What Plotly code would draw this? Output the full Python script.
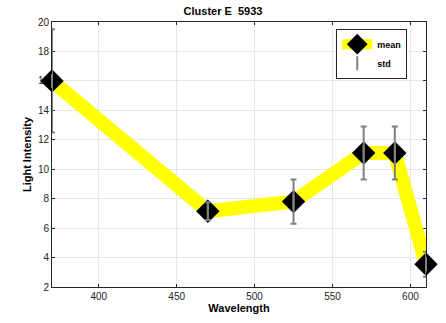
import plotly.graph_objects as go

# Cluster E spectral profile
wavelength = [370, 470, 525, 570, 590, 610]
mean_intensity = [16.0, 7.15, 7.8, 11.1, 11.1, 3.55]
std_intensity = [3.5, 0.6, 1.5, 1.8, 1.8, 0.85]

title_text = "Cluster E  5933"
x_ticks = [400, 450, 500, 550, 600]
y_ticks = [2, 4, 6, 8, 10, 12, 14, 16, 18, 20]

font_family = "Liberation Sans, Arial, sans-serif"

fig = go.Figure()

# mean curve
fig.add_trace(go.Scatter(
    x=wavelength, y=mean_intensity,
    mode="lines+markers",
    name="<b>mean</b>",
    cliponaxis=False,
    line=dict(color="#ffff00", width=14),
    marker=dict(symbol="diamond", size=18, color="black"),
))

# error bars (std), drawn over the markers
fig.add_trace(go.Scatter(
    x=wavelength, y=mean_intensity,
    mode="markers",
    name="<b>std</b>",
    cliponaxis=False,
    marker=dict(symbol="line-ns", size=10, color="#808080",
                line=dict(color="#808080", width=2)),
    error_y=dict(type="data", array=std_intensity, visible=True,
                 color="#808080", thickness=2, width=3),
))

axis_common = dict(
    showgrid=True, gridcolor="#e6e6e6", gridwidth=1,
    showline=True, linecolor="#262626", linewidth=1, mirror="ticks",
    ticks="inside", ticklen=3, tickcolor="#262626",
    tickfont=dict(family=font_family, size=10, color="#262626"),
    zeroline=False, layer="below traces",
)

fig.update_layout(
    width=446, height=323,
    margin=dict(l=52, r=20, t=22, b=36),
    paper_bgcolor="white", plot_bgcolor="white",
    title=dict(text="<b>" + title_text + "</b>", x=0.5, xanchor="center",
               y=1 - 11 / 323, yanchor="middle",
               font=dict(family=font_family, size=11, color="black")),
    xaxis=dict(range=[370, 610], tickvals=x_ticks,
               title=dict(text="<b>Wavelength</b>", standoff=2,
                          font=dict(family=font_family, size=11, color="black")),
               **axis_common),
    yaxis=dict(range=[2, 20], tickvals=y_ticks,
               title=dict(text="<b>Light Intensity</b>", standoff=4,
                          font=dict(family=font_family, size=11, color="black")),
               **axis_common),
    showlegend=True,
    legend=dict(x=0.76, y=0.975, xanchor="left", yanchor="top",
                bgcolor="white", bordercolor="#262626", borderwidth=1,
                traceorder="normal",
                font=dict(family=font_family, size=9, color="black"),
                itemwidth=30, tracegroupgap=0),
)

fig.write_html("out.html")
